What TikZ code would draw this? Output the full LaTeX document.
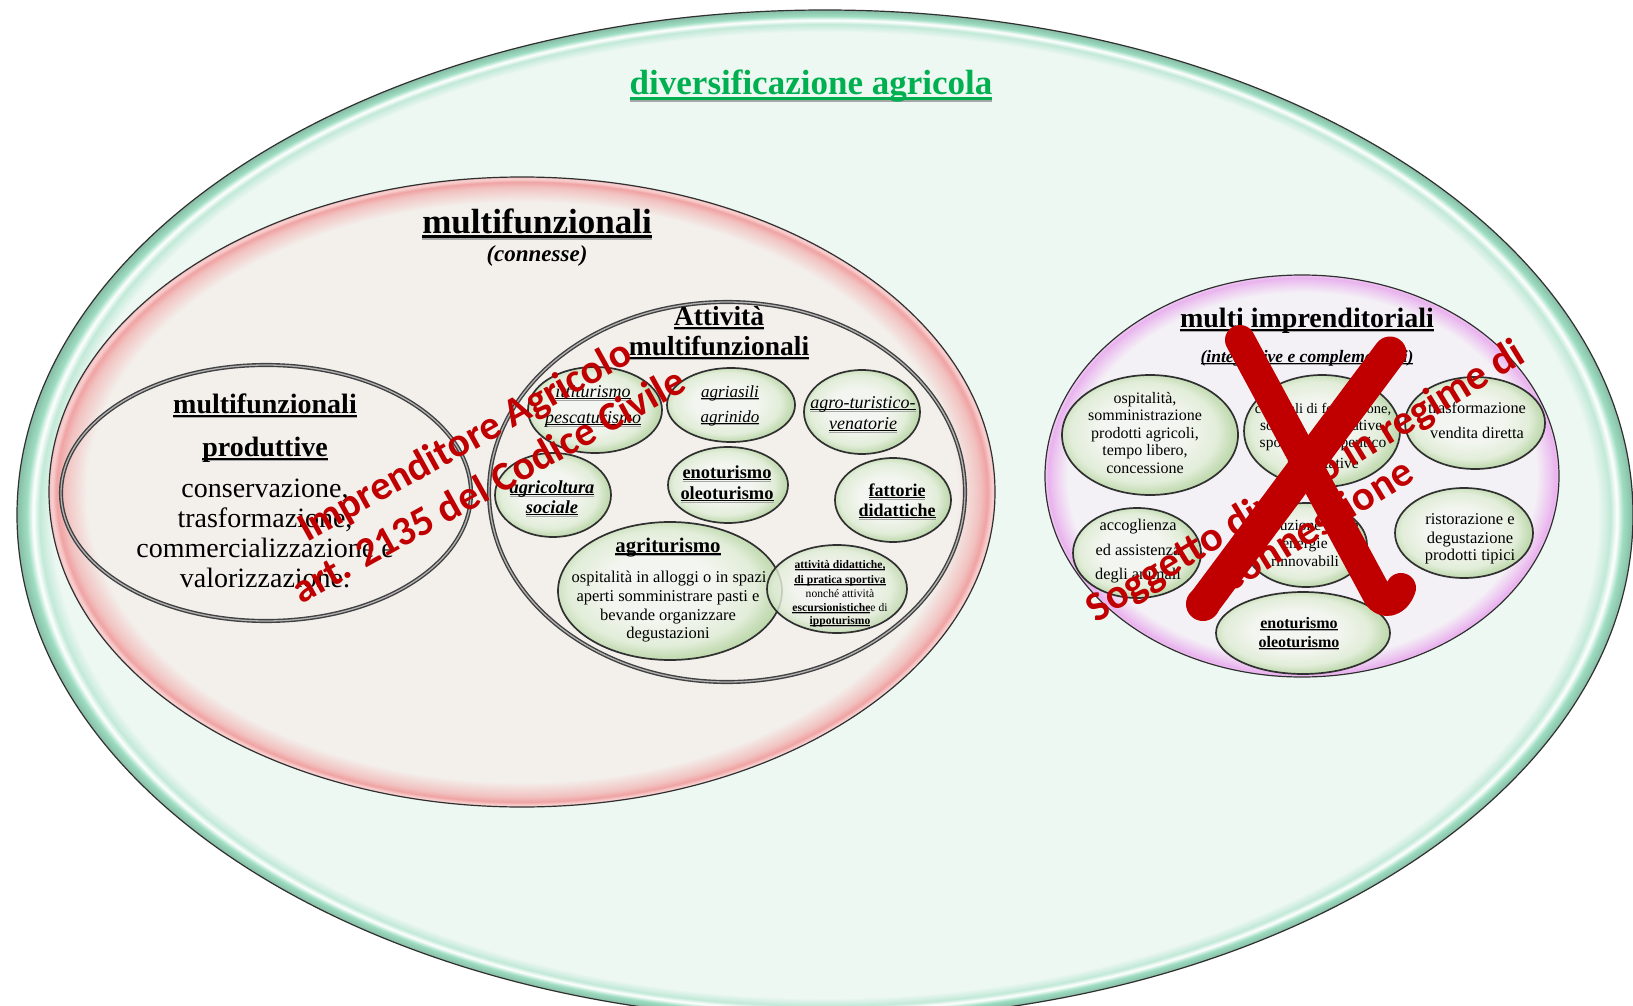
\documentclass[tikz,border=0pt]{standalone}
\usepackage{fontspec}
\setmainfont{Liberation Serif}
\newfontfamily\redfont{Carlito}
\definecolor{mintIn}{HTML}{EEF8F3}
\definecolor{mintRim}{HTML}{9EDDC2}
\definecolor{pinkIn}{HTML}{F3F0EC}
\definecolor{pinkRim}{HTML}{F0A3A3}
\definecolor{violIn}{HTML}{F4F1F6}
\definecolor{violRim}{HTML}{E9B2EE}
\definecolor{bubC}{HTML}{F3F6F0}
\definecolor{bubM}{HTML}{E2EDD9}
\definecolor{bubE}{HTML}{CBE0BD}
\definecolor{bubR}{HTML}{B9D5A6}
\definecolor{titgreen}{HTML}{00B050}
\definecolor{xred}{HTML}{C00000}
\definecolor{edgecol}{HTML}{303030}
\pgfdeclareradialshading{outerrim}{\pgfpointorigin}{color(0bp)=(mintIn); color(23.9bp)=(mintIn); color(24.3bp)=(mintRim!55!mintIn); color(24.5bp)=(white); color(24.7bp)=(mintRim); color(25bp)=(mintRim!85!black); color(50bp)=(mintRim!85!black)}
\pgfdeclareradialshading{pinkrim}{\pgfpointorigin}{color(0bp)=(pinkIn); color(23.0bp)=(pinkIn); color(24.2bp)=(pinkRim!60!pinkIn); color(24.6bp)=(pinkRim); color(24.85bp)=(pinkRim!50!white); color(25bp)=(pinkRim!70!white); color(50bp)=(pinkRim!70!white)}
\pgfdeclareradialshading{violrim}{\pgfpointorigin}{color(0bp)=(violIn); color(22.8bp)=(violIn); color(24.2bp)=(violRim!70!violIn); color(24.7bp)=(violRim); color(25bp)=(violRim!70!white); color(50bp)=(violRim!70!white)}
\pgfdeclareradialshading{bubble}{\pgfpoint{-3bp}{2bp}}{color(0bp)=(bubC); color(12bp)=(bubC); color(21bp)=(bubM); color(24bp)=(bubE); color(27bp)=(bubR); color(50bp)=(bubR)}
\newcommand\fsz[1]{\fontsize{#1}{#1}\selectfont}
\newcommand\myul[1]{\leavevmode\setbox0=\hbox{#1}\rlap{\color{black!35}\rule[-0.19em]{\wd0}{0.05em}}\rlap{\rule[-0.13em]{\wd0}{0.065em}}\box0}
\tikzset{
  txt/.style={inner sep=0pt, anchor=base},
  bubb/.style={shade, shading=bubble, draw=edgecol, line width=1.7pt},
  dbl/.style={draw=black!75, line width=1.4pt, double=black!30, double distance=1.3pt},
  redtxt/.style={inner sep=0pt, anchor=base, text=xred, font=\redfont\bfseries\fsz{41}},
  xstroke/.style={draw=xred, line width=30pt, line cap=round, line join=round},
}
\begin{document}
\begin{tikzpicture}[x=1pt,y=-1pt]
\useasboundingbox (0,0) rectangle (1633,1006);
\clip (0,0) rectangle (1633,1006);
\fill[white] (0,0) rectangle (1633,1006);
% outer ellipse
\path[shade, shading=outerrim, draw=edgecol, line width=1.2pt] (825,515) ellipse [x radius=808pt, y radius=505pt];
\node[txt, font=\bfseries\fsz{35}, text=titgreen] (tdiv) at (811,95) {\myul{diversificazione agricola}};
% pink ellipse
\path[shade, shading=pinkrim, draw=edgecol, line width=1.2pt] (522,492) ellipse [x radius=473pt, y radius=315pt];
\node[txt, font=\bfseries\fsz{35}] (tmf) at (537,233) {\myul{multifunzionali}};
\node[txt, font=\bfseries\itshape\fsz{23}] (tcon) at (537,261) {(connesse)};
% produttive
\draw[dbl] (266,493) ellipse [x radius=205pt, y radius=128pt];
\node[txt, font=\bfseries\fsz{28}] (p1) at (265,413) {\myul{multifunzionali}};
\node[txt, font=\bfseries\fsz{28}] (p2) at (265,456) {\myul{produttive}};
\node[txt, font=\fsz{28}] (p3) at (265,497) {conservazione,};
\node[txt, font=\fsz{28}] (p4) at (265,527) {trasformazione,};
\node[txt, font=\fsz{28}] (p5) at (265,557) {commercializzazione e};
\node[txt, font=\fsz{28}] (p6) at (265,587) {valorizzazione.};
% attivita multifunzionali
\draw[dbl] (727,492) ellipse [x radius=238pt, y radius=190pt];
\node[txt, font=\bfseries\fsz{27.5}] (a1) at (719,325) {\myul{Attività}};
\node[txt, font=\bfseries\fsz{27.5}] (a2) at (719,355) {\myul{multifunzionali}};
% bubbles left
\path[bubb] (595,410) ellipse [x radius=67pt, y radius=43pt];
\node[txt, font=\itshape\fsz{18}] (b1a) at (593,397) {\myul{ittiturismo}};
\node[txt, font=\itshape\fsz{18}] (b1b) at (593,423) {\myul{pescaturismo}};
\path[bubb] (731,405) ellipse [x radius=64pt, y radius=37pt];
\node[txt, font=\itshape\fsz{17}] (b2a) at (730,397) {\myul{agriasili}};
\node[txt, font=\itshape\fsz{17}] (b2b) at (730,422) {\myul{agrinido}};
\path[bubb] (862,412) ellipse [x radius=58pt, y radius=42pt];
\node[txt, font=\itshape\fsz{18}] (b3a) at (863,408) {\myul{agro-turistico-}};
\node[txt, font=\itshape\fsz{18}] (b3b) at (863,429) {\myul{venatorie}};
\path[bubb] (553,495) ellipse [x radius=58pt, y radius=42pt];
\node[txt, font=\bfseries\itshape\fsz{18.4}] (b4a) at (552,493) {\myul{agricoltura}};
\node[txt, font=\bfseries\itshape\fsz{18.4}] (b4b) at (552,513) {\myul{sociale}};
\path[bubb] (728,485) ellipse [x radius=60pt, y radius=38pt];
\node[txt, font=\bfseries\fsz{18.4}] (b5a) at (727,478) {\myul{enoturismo}};
\node[txt, font=\bfseries\fsz{18.4}] (b5b) at (727,499) {\myul{oleoturismo}};
\path[bubb] (893,500) ellipse [x radius=58pt, y radius=42pt];
\node[txt, font=\bfseries\fsz{18}] (b6a) at (897,496) {\myul{fattorie}};
\node[txt, font=\bfseries\fsz{18}] (b6b) at (897,516) {\myul{didattiche}};
\path[bubb] (670,591) ellipse [x radius=112pt, y radius=69pt];
\node[txt, font=\bfseries\fsz{20.8}] (b7a) at (668,552) {\myul{agriturismo}};
\node[txt, font=\fsz{16.5}] (b7b) at (669,582) {ospitalità in alloggi o in spazi};
\node[txt, font=\fsz{16.5}] (b7c) at (668,601) {aperti somministrare pasti e};
\node[txt, font=\fsz{16.5}] (b7d) at (668,620) {bevande organizzare};
\node[txt, font=\fsz{16.5}] (b7e) at (668,638) {degustazioni};
\path[bubb, fill opacity=0.82] (837,589) ellipse [x radius=70pt, y radius=44pt];
\node[txt, font=\bfseries\fsz{11.6}] (b8a) at (840,568) {\myul{attività didattiche,}};
\node[txt, font=\bfseries\fsz{11.6}] (b8b) at (840,583) {\myul{di pratica sportiva}};
\node[txt, font=\fsz{11.6}] (b8c) at (840,597) {nonché attività};
\node[txt, font=\fsz{11.6}] (b8d) at (840,611) {\myul{\textbf{escursionistiche}} e di};
\node[txt, font=\bfseries\fsz{11.6}] (b8e) at (840,624) {\myul{ippoturismo}};
% right ellipse
\path[shade, shading=violrim, draw=edgecol, line width=1.2pt] (1302,476) ellipse [x radius=257pt, y radius=201pt];
\node[txt, font=\bfseries\fsz{28}] (r0) at (1307,327) {\myul{multi imprenditoriali}};
\node[txt, font=\bfseries\itshape\fsz{17.5}] (r0b) at (1307,362) {\myul{(integrative e complementari)}};
\path[bubb] (1150,435) ellipse [x radius=88pt, y radius=60pt];
\node[txt, font=\fsz{16}] (ra1) at (1145,403) {ospitalità,};
\node[txt, font=\fsz{16}] (ra2) at (1145,420) {somministrazione};
\node[txt, font=\fsz{16}] (ra3) at (1145,438) {prodotti agricoli,};
\node[txt, font=\fsz{16}] (ra4) at (1145,455) {tempo libero,};
\node[txt, font=\fsz{16}] (ra5) at (1145,473) {concessione};
\path[bubb] (1322,431) ellipse [x radius=78pt, y radius=56pt];
\node[txt, font=\fsz{14.5}] (rb1) at (1323,413) {culturali di formazione,};
\node[txt, font=\fsz{15.5}] (rb2) at (1323,430) {\makebox[126pt][s]{sociali, ricreative,}};
\node[txt, font=\fsz{15.5}] (rb3) at (1323,447) {sportive, terapeutico};
\node[txt, font=\fsz{15.5}] (rb4) at (1323,468) {riabilitative};
\path[bubb] (1475,423) ellipse [x radius=70pt, y radius=46pt];
\node[txt, font=\fsz{16.3}] (rc1) at (1477,413) {trasformazione};
\node[txt, font=\fsz{16.3}] (rc2) at (1477,438) {vendita diretta};
\path[bubb] (1137,553) ellipse [x radius=64pt, y radius=45pt];
\node[txt, font=\fsz{16.3}] (rd1) at (1138,530) {accoglienza};
\node[txt, font=\fsz{16.3}] (rd2) at (1138,555) {ed assistenza};
\node[txt, font=\fsz{16.3}] (rd3) at (1138,579) {degli animali};
\path[bubb] (1306,545) ellipse [x radius=61pt, y radius=42pt];
\node[txt, font=\fsz{15.5}] (re1) at (1305,530) {\makebox[107pt][s]{produzione e}};
\node[txt, font=\fsz{15.5}] (re2) at (1305,548) {energie};
\node[txt, font=\fsz{15.5}] (re3) at (1305,566) {rinnovabili};
\path[bubb] (1464,533) ellipse [x radius=69pt, y radius=45pt];
\node[txt, font=\fsz{16.5}] (rf1) at (1470,524) {ristorazione e};
\node[txt, font=\fsz{16.5}] (rf2) at (1470,543) {degustazione};
\node[txt, font=\fsz{16.5}] (rf3) at (1470,560) {prodotti tipici};
\path[bubb] (1303,633) ellipse [x radius=87pt, y radius=41pt];
\node[txt, font=\bfseries\fsz{16}] (rg1) at (1299,628) {\myul{enoturismo}};
\node[txt, font=\bfseries\fsz{16}] (rg2) at (1299,647) {\myul{oleoturismo}};
% red texts
\node[redtxt, rotate=29] (rt1) at (471,452) {Imprenditore Agricolo};
\node[redtxt, rotate=29] (rt2) at (495,497) {art. 2135 del Codice Civile};
\node[redtxt, font=\redfont\bfseries\fsz{42}, rotate=31.3] (rt3) at (1312,492) {Soggetto diverso in regime di};
\node[redtxt, font=\redfont\bfseries\fsz{42}, rotate=31.5] (rt4) at (1324,536) {connessione};
% red X
\coordinate (xa1) at (1240,340);
\coordinate (xa2) at (1378,596);
\coordinate (xa3) at (1401,588);
\coordinate (xb1) at (1390,353);
\coordinate (xb2) at (1203,604);
\draw[xstroke] (xa1) -- (xa2) .. controls (1386,606) and (1397,600) .. (xa3);
\draw[xstroke, line width=33pt] (xb1) -- (xb2);
\fill[xred] (xb2) circle[radius=17pt];
\end{tikzpicture}
\end{document}
